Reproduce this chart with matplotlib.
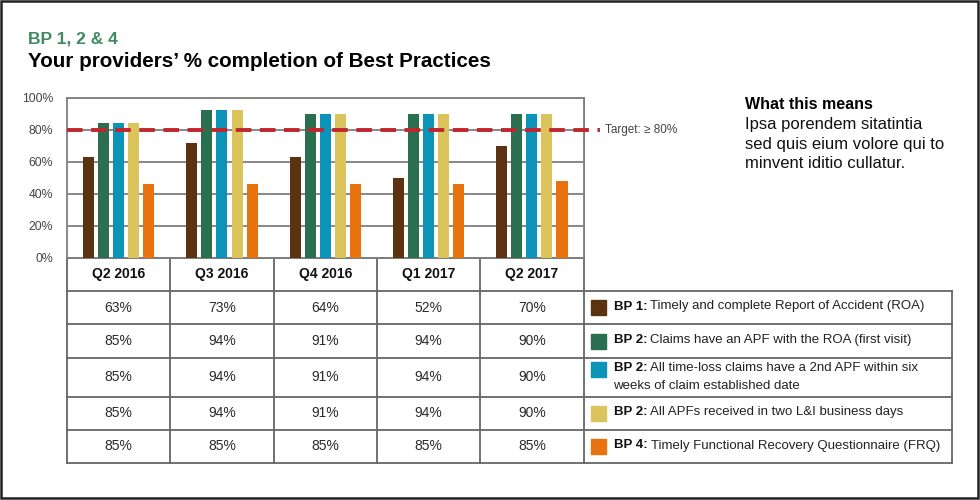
import matplotlib.pyplot as plt
from matplotlib.patches import Rectangle

# data
quarters = ["Q2 2016", "Q3 2016", "Q4 2016", "Q1 2017", "Q2 2017"]
# bar heights as drawn
bp1_bars = [63, 72, 63, 50, 70]
bp2a_bars = [84, 92, 90, 90, 90]
bp2b_bars = [84, 92, 90, 90, 90]
bp2c_bars = [84, 92, 90, 90, 90]
bp4_bars = [46, 46, 46, 46, 48]
# values printed in the table
bp1_table = [63, 73, 64, 52, 70]
bp2a_table = [85, 94, 91, 94, 90]
bp2b_table = [85, 94, 91, 94, 90]
bp2c_table = [85, 94, 91, 94, 90]
bp4_table = [85, 85, 85, 85, 85]
legend_bold = ["BP 1:", "BP 2:", "BP 2:", "BP 2:", "BP 4:"]
legend_text = ["Timely and complete Report of Accident (ROA)",
               "Claims have an APF with the ROA (first visit)",
               "All time-loss claims have a 2nd APF within six\nweeks of claim established date",
               "All APFs received in two L&I business days",
               "Timely Functional Recovery Questionnaire (FRQ)"]
target = 80
yticks = [0, 20, 40, 60, 80, 100]

colors = ["#5c3311", "#2a7050", "#0b93b8", "#dcc45c", "#e8730e"]
bars = [bp1_bars, bp2a_bars, bp2b_bars, bp2c_bars, bp4_bars]
table = [bp1_table, bp2a_table, bp2b_table, bp2c_table, bp4_table]

FONT = ["Liberation Sans", "DejaVu Sans"]
plt.rcParams['font.family'] = FONT
GRID = "#7f7f7f"
LINE = "#666666"

fig = plt.figure(figsize=(9.8, 5), dpi=100)

# pixel overlay for table, frame and texts
ov = fig.add_axes([0, 0, 1, 1])
ov.set_xlim(0, 980)
ov.set_ylim(500, 0)
ov.axis("off")

# bar chart
ax = fig.add_axes([67 / 980, (500 - 257.7) / 500, 516.5 / 980, 160 / 500])
n = len(bars)
pitch = 0.146
for k, (vals, c) in enumerate(zip(bars, colors)):
    xs = [i + (k - (n - 1) / 2) * pitch for i in range(len(quarters))]
    ax.bar(xs, vals, width=0.107, color=c, zorder=3)
ax.set_xlim(-0.5, len(quarters) - 0.5)
ax.set_ylim(0, 100)
ax.set_yticks(yticks)
ax.set_yticklabels([f"{t}%" for t in yticks], fontsize=8.8, color="#444444")
ax.set_xticks([])
ax.tick_params(axis="y", length=0, pad=10)
ax.grid(axis="y", color=GRID, linewidth=1.3, zorder=1)
for s in ax.spines.values():
    s.set_color(GRID)
    s.set_linewidth(1.3)
ax.axhline(target, xmin=0, xmax=1.031, color="#c0272d", linewidth=2.8,
           linestyle=(0, (4, 2.2)), clip_on=False, zorder=4)
ax.text(1.042, target, "Target: \u2265 80%", transform=ax.get_yaxis_transform(),
        fontsize=8.5, color="#444444", va="center", ha="left", family=FONT)

# table grid
col_x = [67 + 103.3 * i for i in range(len(quarters) + 1)]
row_y = [257.7, 291, 324, 358, 396.5, 430, 463]
leg_right = 952
for j, y in enumerate(row_y):
    x1 = col_x[-1] if j == 0 else leg_right
    ov.plot([col_x[0], x1], [y, y], color=LINE, linewidth=1.3)
for x in col_x[:-1]:
    ov.plot([x, x], [row_y[0], row_y[-1]], color=LINE, linewidth=1.3)
ov.plot([col_x[-1], col_x[-1]], [97.7, row_y[-1]], color=LINE, linewidth=1.3)
ov.plot([leg_right, leg_right], [row_y[1], row_y[-1]], color=LINE, linewidth=1.3)

for i, q in enumerate(quarters):
    cx = (col_x[i] + col_x[i + 1]) / 2
    ov.text(cx, (row_y[0] + row_y[1]) / 2, q, ha="center", va="center",
            fontsize=10, fontweight="bold", color="#111111")
    for r, vals in enumerate(table):
        cy = (row_y[r + 1] + row_y[r + 2]) / 2
        ov.text(cx, cy, f"{vals[i]}%", ha="center", va="center",
                fontsize=10, color="#2a2a2a")

# legend column
for r in range(len(legend_bold)):
    top, bot = row_y[r + 1], row_y[r + 2]
    lines = legend_text[r].split("\n")
    if len(lines) == 1:
        cy = (top + bot) / 2
    else:
        cy = top + 11
    ov.add_patch(Rectangle((591, cy - 7.5), 15, 15, color=colors[r]))
    b = ov.text(613.5, cy + 5, legend_bold[r], ha="left", va="bottom",
                fontsize=9.5, fontweight="bold", color="#111111")
    ov.annotate(lines[0], xy=(1, 0), xycoords=b, xytext=(2.5, 0),
                textcoords="offset points", ha="left", va="bottom",
                fontsize=9.5, color="#222222")
    for m, extra in enumerate(lines[1:]):
        ov.text(613.5, cy + 6.5 + 16.5 * (m + 1), extra, ha="left", va="bottom",
                fontsize=9.5, color="#222222")

# titles
ov.text(28, 43, "BP 1, 2 & 4", fontsize=12.5, fontweight="bold",
        color="#3f8a5f", va="baseline")
ov.text(28, 67, "Your providers\u2019 % completion of Best Practices",
        fontsize=14.9, fontweight="bold", color="#000000", va="baseline")

ov.text(745, 109, "What this means", fontsize=11.5, fontweight="bold",
        color="#000000", va="baseline")
ov.text(745, 117, "Ipsa porendem sitatintia\nsed quis eium volore qui to\nminvent iditio cullatur.",
        fontsize=12, color="#111111", va="top", linespacing=1.38)

# outer frame
ov.add_patch(Rectangle((1, 1), 977, 497, fill=False, edgecolor="#222222",
                       linewidth=1.8))

fig.savefig("out.png", dpi=100)
